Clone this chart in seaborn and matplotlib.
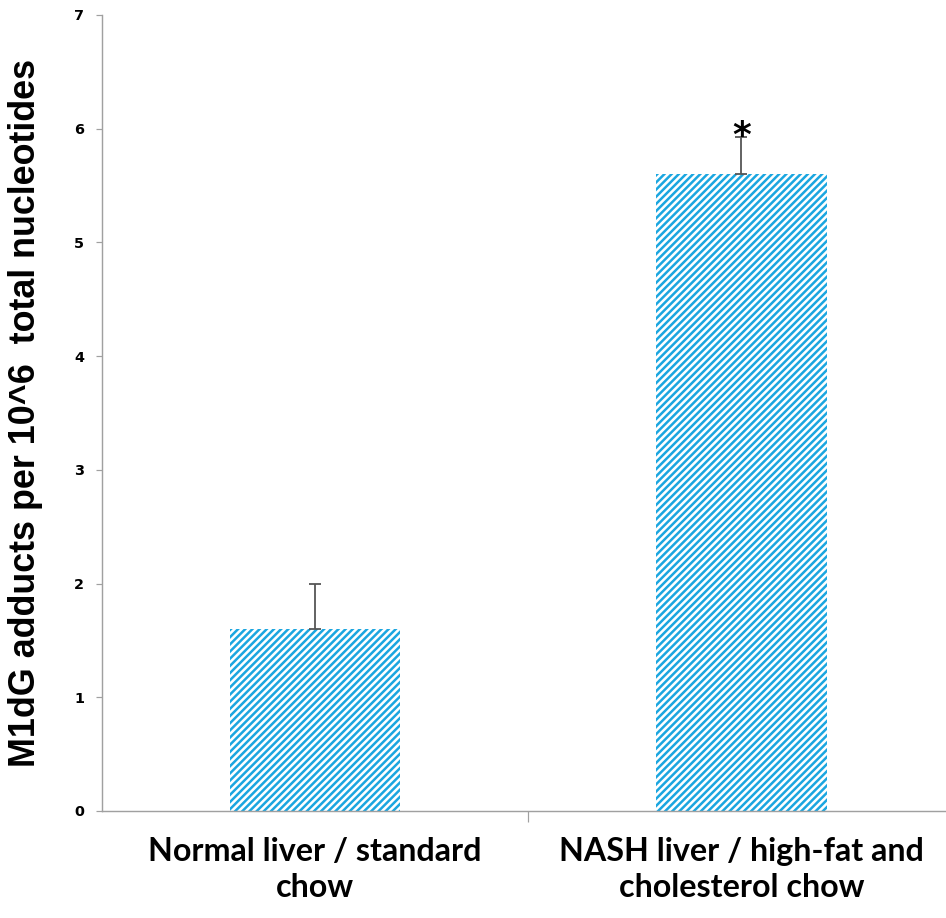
import matplotlib
matplotlib.use("Agg")
import matplotlib.pyplot as plt
import pandas as pd
import seaborn as sns

sns.set_theme(style="white")
plt.rcParams['hatch.linewidth'] = 2.1
plt.rcParams['hatch.color'] = '#1BA6E0'

groups = ["Normal liver / standard\nchow", "NASH liver / high-fat and\ncholesterol chow"]
adducts = [1.6, 5.6]
err_up = [0.4, 0.33]
signif = ["", "*"]

df = pd.DataFrame({"group": groups, "adducts": adducts})

DPI = 86
fig = plt.figure(figsize=(946 / DPI, 918 / DPI), dpi=DPI)
ax = fig.add_axes([102 / 946, 1 - 811 / 918, 1 - 102 / 946, (811 - 15) / 918])

sns.barplot(x="group", y="adducts", data=df, ax=ax, width=0.4,
            color="white", edgecolor="#1BA6E0", linewidth=0, errorbar=None)
for p in ax.patches:
    p.set_hatch("////")
    p.set_facecolor("white")

ax.errorbar(range(len(groups)), adducts, yerr=[[0] * len(groups), err_up],
            fmt="none", ecolor="#555555", elinewidth=1.5, capsize=5, capthick=1.5)
for i, s in enumerate(signif):
    if s:
        ax.text(i, adducts[i] + err_up[i] + 0.01, s, ha="center", va="center",
                fontsize=30, fontweight="bold", color="black")

ax.set_ylim(0, 7)
ax.set_xlim(-0.5, 1.48)
ax.set_yticks(range(8))
ax.set_yticklabels([str(v) for v in range(8)], fontsize=12, fontweight="bold",
                   family="DejaVu Sans", color="black")
ax.set_xticks([0, 1])
ax.set_xticklabels(groups, fontsize=27, fontweight="bold", family="Lato",
                   linespacing=1.3, color="black")
ax.tick_params(axis="x", length=0, pad=22)
ax.set_xticks([0.5], minor=True)
ax.tick_params(axis="x", which="minor", bottom=True, length=9, color="#A0A0A0", width=1)
ax.tick_params(axis="y", left=True, length=5, color="#A0A0A0", width=1, pad=10)

for side in ["top", "right"]:
    ax.spines[side].set_visible(False)
for side in ["left", "bottom"]:
    ax.spines[side].set_color("#A0A0A0")
    ax.spines[side].set_linewidth(1.2)

ax.set_xlabel("")
ax.set_ylabel("M1dG adducts per 10^6  total nucleotides", fontsize=30,
              fontweight="bold", family="Liberation Sans", color="black")
ax.yaxis.set_label_coords(-0.07, 0.5)

fig.savefig("out.png", dpi=DPI)
